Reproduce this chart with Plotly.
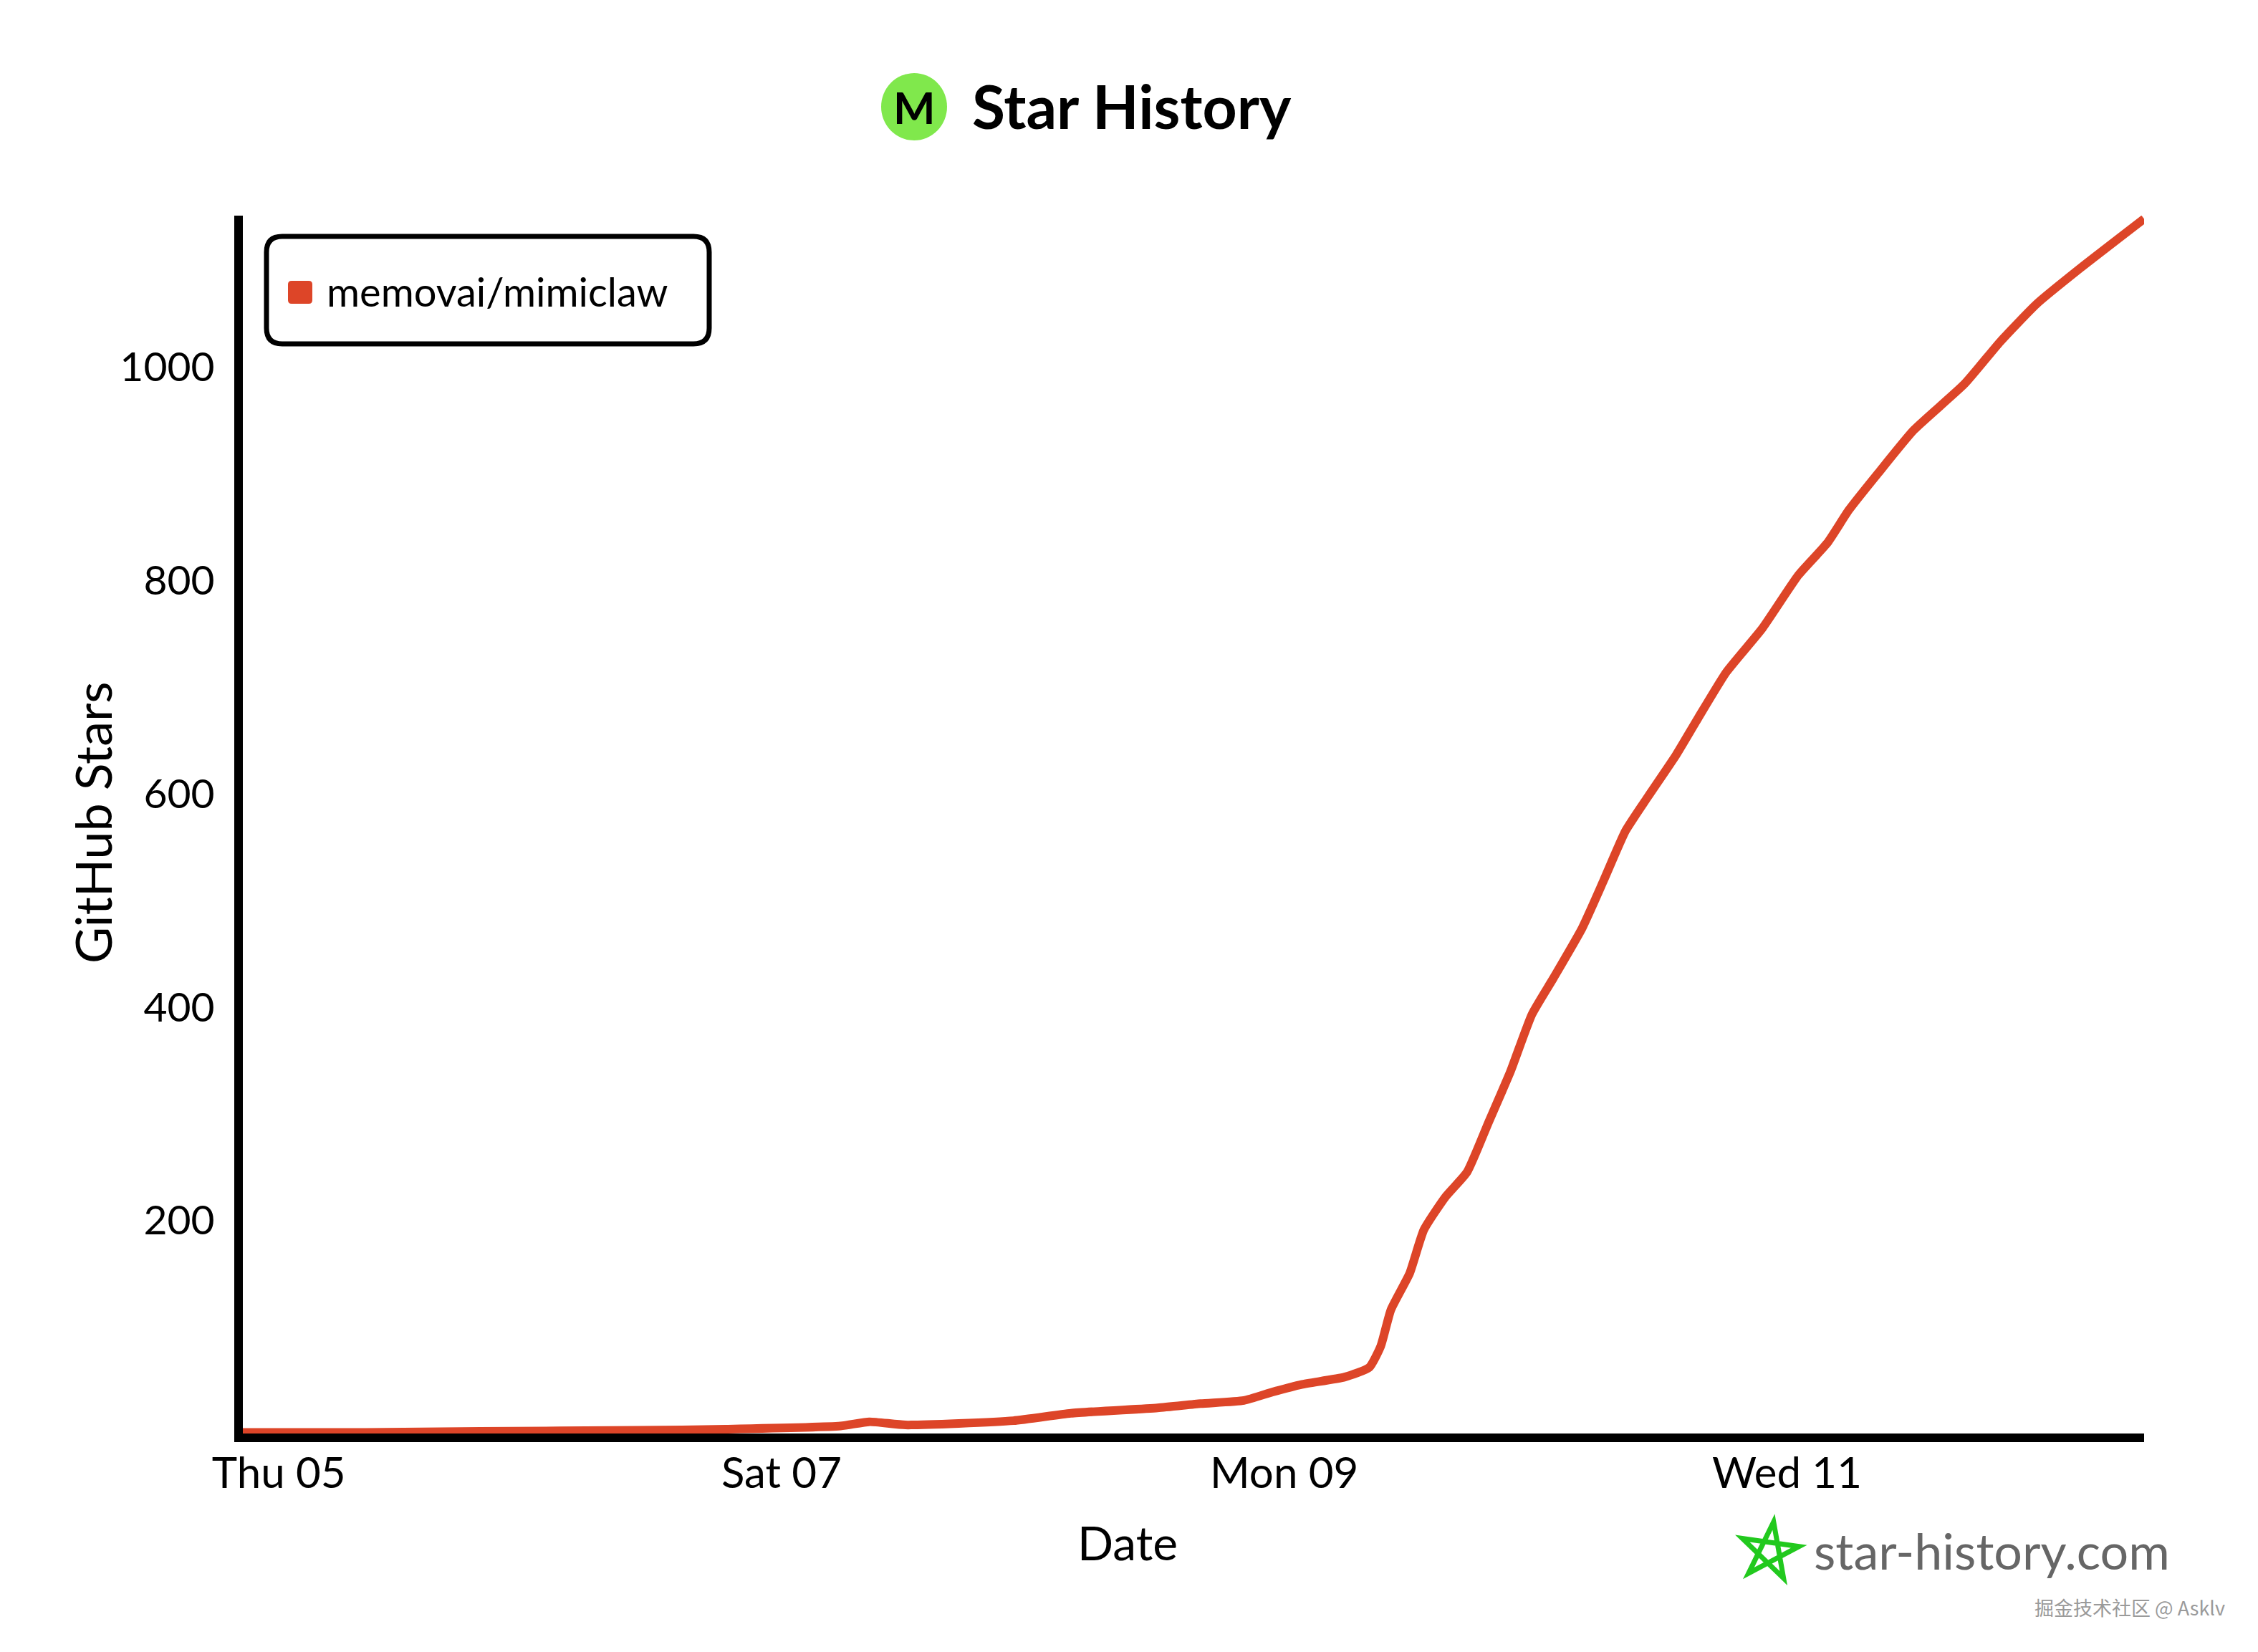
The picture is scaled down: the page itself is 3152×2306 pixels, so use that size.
import math
import plotly.graph_objects as go

# ---------------- data ----------------
repo_name = "memovai/mimiclaw"
dates = [
    "2026-02-04 20:34", "2026-02-05 08:15", "2026-02-05 19:15", "2026-02-06 10:23",
    "2026-02-06 18:38", "2026-02-07 05:38", "2026-02-07 08:23", "2026-02-07 11:50",
    "2026-02-07 22:08", "2026-02-08 03:38", "2026-02-08 11:54", "2026-02-08 16:01",
    "2026-02-08 20:09", "2026-02-08 22:54", "2026-02-09 01:39", "2026-02-09 05:47",
    "2026-02-09 08:07", "2026-02-09 09:13", "2026-02-09 10:11", "2026-02-09 11:58",
    "2026-02-09 13:20", "2026-02-09 15:24", "2026-02-09 17:27", "2026-02-09 19:31",
    "2026-02-09 21:35", "2026-02-09 23:39", "2026-02-10 01:42", "2026-02-10 04:27",
    "2026-02-10 06:31", "2026-02-10 08:35", "2026-02-10 10:39", "2026-02-10 13:24",
    "2026-02-10 15:28", "2026-02-10 18:13", "2026-02-10 21:39", "2026-02-11 01:06",
    "2026-02-11 03:51", "2026-02-11 05:55", "2026-02-11 08:40", "2026-02-11 12:07",
    "2026-02-11 16:56", "2026-02-11 20:23", "2026-02-11 23:49", "2026-02-12 03:55",
    "2026-02-12 10:06",
]
stars = [
    1, 1, 2, 3,
    4, 7, 11, 8,
    12, 19, 24, 28,
    31, 39, 46, 53,
    62, 82, 116, 150,
    191, 222, 245, 292,
    339, 393, 427, 474,
    519, 565, 596, 636,
    670, 714, 755, 805,
    835, 866, 900, 941,
    984, 1024, 1059, 1092,
    1139,
]
x_tick_vals = ["2026-02-05", "2026-02-07", "2026-02-09", "2026-02-11"]
x_tick_text = ["Thu 05", "Sat 07", "Mon 09", "Wed 11"]
y_tick_vals = [200, 400, 600, 800, 1000]
y_tick_text = ["200", "400", "600", "800", "1000"]

# ---------------- styling ----------------
W, H = 3152, 2306
ML, MR, MT, MB = 331, 167, 293, 313
PW, PH = W - ML - MR, H - MT - MB
FONT = "Lato"
RED = "#dd4528"


def px(x):
    """figure pixel x -> paper x (paper spans the plot area)"""
    return (x - ML) / PW


def py(y):
    """figure pixel y (from top) -> paper y"""
    return (H - MB - y) / PH


def rounded_rect(x0, y0, x1, y1, r):
    X0, X1 = px(x0), px(x1)
    Y0, Y1 = py(y0), py(y1)  # Y0 top, Y1 bottom
    rx, ry = r / PW, r / PH
    return (f"M {X0+rx},{Y0} L {X1-rx},{Y0} Q {X1},{Y0} {X1},{Y0-ry} "
            f"L {X1},{Y1+ry} Q {X1},{Y1} {X1-rx},{Y1} "
            f"L {X0+rx},{Y1} Q {X0},{Y1} {X0},{Y1+ry} "
            f"L {X0},{Y0-ry} Q {X0},{Y0} {X0+rx},{Y0} Z")


def pentagram(cx, cy, r, rot):
    pts = []
    for k in range(5):
        a = math.radians(rot + 90 + 144 * k)
        pts.append((px(cx + r * math.cos(a)), py(cy - r * math.sin(a))))
    s = f"M {pts[0][0]},{pts[0][1]}"
    for p in pts[1:]:
        s += f" L {p[0]},{p[1]}"
    return s + " Z"


fig = go.Figure()
fig.add_trace(go.Scatter(
    x=dates, y=stars, mode="lines", name=repo_name,
    line=dict(color=RED, width=12, shape="spline", smoothing=0.5),
    cliponaxis=False, showlegend=False,
))

shapes = [
    # legend box
    dict(type="path", xref="paper", yref="paper",
         path=rounded_rect(364, 322, 982, 472, 22),
         line=dict(color="black", width=7), fillcolor="white", layer="above"),
    # legend swatch
    dict(type="path", xref="paper", yref="paper",
         path=rounded_rect(394, 384, 428, 416, 5),
         line=dict(color=RED, width=0), fillcolor=RED, layer="above"),
    # title logo circle
    dict(type="circle", xref="paper", yref="paper",
         x0=px(1222), x1=px(1314), y0=py(188), y1=py(94),
         fillcolor="#80e84c", line=dict(width=0)),
    # star-history star
    dict(type="path", xref="paper", yref="paper",
         path=pentagram(2462, 2158, 42, -8),
         line=dict(color="#22c91e", width=7)),
]

annotations = [
    dict(text="<b>Star History</b>", x=px(1572), y=py(139), xref="paper", yref="paper",
         showarrow=False, font=dict(family=FONT, size=84, color="black"),
         xanchor="center", yanchor="middle"),
    dict(text="<b>M</b>", x=px(1268), y=py(141), xref="paper", yref="paper",
         showarrow=False, font=dict(family=FONT, size=62, color="black"),
         xanchor="center", yanchor="middle"),
    dict(text=repo_name, x=px(446), y=py(398), xref="paper", yref="paper",
         showarrow=False, font=dict(family=FONT, size=56, color="black"),
         xanchor="left", yanchor="middle"),
    dict(text="GitHub Stars", x=px(121), y=py(1140), xref="paper", yref="paper",
         showarrow=False, textangle=-90, font=dict(family=FONT, size=70, color="black"),
         xanchor="center", yanchor="middle"),
    dict(text="Date", x=px(1566), y=py(2144), xref="paper", yref="paper",
         showarrow=False, font=dict(family=FONT, size=66, color="black"),
         xanchor="center", yanchor="middle"),
    dict(text="star-history.com", x=px(2522), y=py(2156), xref="paper", yref="paper",
         showarrow=False, font=dict(family=FONT, size=70, color="#666666"),
         xanchor="left", yanchor="middle"),
    dict(text="掘金技术社区 @ Asklv", x=px(3100), y=py(2235), xref="paper", yref="paper",
         showarrow=False, font=dict(family="Noto Sans CJK SC", size=27, color="#9a9a9a"),
         xanchor="right", yanchor="middle"),
]

fig.update_layout(
    width=W, height=H,
    paper_bgcolor="white", plot_bgcolor="white",
    margin=dict(l=ML, r=MR, t=MT, b=MB, autoexpand=False),
    font=dict(family=FONT, color="black"),
    shapes=shapes, annotations=annotations,
    showlegend=False,
    xaxis=dict(
        type="date", range=["2026-02-04 20:34", "2026-02-12 10:06"],
        tickmode="array", tickvals=x_tick_vals, ticktext=x_tick_text,
        tickfont=dict(family=FONT, size=60, color="black"),
        showgrid=False, zeroline=False, showline=True, linecolor="black", linewidth=12,
        ticks="", ticklabelstandoff=-8,
    ),
    yaxis=dict(
        range=[0, 1142],
        tickmode="array", tickvals=y_tick_vals, ticktext=y_tick_text,
        tickfont=dict(family=FONT, size=57, color="black"),
        showgrid=False, zeroline=False, showline=True, linecolor="black", linewidth=12,
        ticks="", ticklabelstandoff=16,
    ),
)

fig.write_html("out.html")
